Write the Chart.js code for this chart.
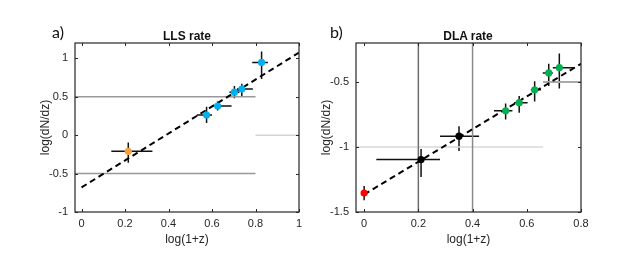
<!DOCTYPE html>
<html>
<head>
<meta charset="utf-8">
<script src="https://cdn.jsdelivr.net/npm/chart.js@4.4.0/dist/chart.umd.min.js"></script>
<style>
  body { margin: 0; background: #fff; }
  #wrap { position: relative; width: 628px; height: 258px; overflow: hidden; }
  .panel { position: absolute; top: 0; width: 314px; height: 258px; }
  .lbl { position: absolute; font-family: Lato, "Open Sans", sans-serif; font-size: 16px; color: #111; }
  .ttl { position: absolute; font-family: "Liberation Sans", Arial, sans-serif; font-weight: bold; font-size: 12px; color: #111; transform: translateX(-50%); white-space: nowrap; }
</style>
</head>
<body>
<div id="wrap">
  <div class="panel" style="left:0"><canvas id="cA" width="314" height="258"></canvas></div>
  <div class="panel" style="left:314px"><canvas id="cB" width="314" height="258"></canvas></div>
  <div class="lbl" style="left:52px;top:22px">a)</div>
  <div class="lbl" style="left:330px;top:22px">b)</div>
  <div class="ttl" style="left:187px;top:29px">LLS rate</div>
  <div class="ttl" style="left:468px;top:29px">DLA rate</div>
</div>
<script>
// panel a: LLS rate
const llsX   = [0.215, 0.575, 0.626, 0.703, 0.737, 0.828];
const llsY   = [-0.21, 0.263, 0.38, 0.56, 0.60, 0.947];
const llsXLo = [0.137, 0.53, 0.61, 0.68, 0.715, 0.785];
const llsXHi = [0.326, 0.60, 0.69, 0.726, 0.788, 0.857];
const llsYLo = [-0.36, 0.16, 0.32, 0.48, 0.50, 0.73];
const llsYHi = [-0.096, 0.37, 0.44, 0.64, 0.67, 1.09];
const llsColors = ['#f7a03c', '#00b0f0', '#00b0f0', '#00b0f0', '#00b0f0', '#00b0f0'];
const llsFitX = [0, 1];
const llsFitY = [-0.68, 1.075];
const llsXTicks = [0, 0.2, 0.4, 0.6, 0.8, 1];
const llsYTicks = [-1, -0.5, 0, 0.5, 1];

// panel b: DLA rate
const dlaX   = [0, 0.21, 0.35, 0.522, 0.572, 0.629, 0.681, 0.72];
const dlaY   = [-1.354, -1.096, -0.917, -0.721, -0.659, -0.56, -0.43, -0.39];
const dlaXLo = [0, 0.045, 0.28, 0.479, 0.553, 0.615, 0.659, 0.696];
const dlaXHi = [0, 0.28, 0.424, 0.547, 0.603, 0.652, 0.696, 0.776];
const dlaYLo = [-1.41, -1.23, -1.03, -0.789, -0.737, -0.65, -0.53, -0.55];
const dlaYHi = [-1.30, -1.016, -0.84, -0.666, -0.607, -0.495, -0.36, -0.28];
const dlaColors = ['#ff0000', '#000000', '#000000', '#00b050', '#00b050', '#00b050', '#00b050', '#00b050'];
const dlaFitX = [0, 0.8];
const dlaFitY = [-1.365, -0.36];
const dlaXTicks = [0, 0.2, 0.4, 0.6, 0.8];
const dlaYTicks = [-1.5, -1, -0.5];

const axisColor = '#262626';
const tickFont = { family: '"Liberation Sans", Arial, sans-serif', size: 11 };
const titleFont = { family: '"Liberation Sans", Arial, sans-serif', size: 12 };

const toPts = (xs, ys) => xs.map((x, i) => ({ x: x, y: ys[i] }));

const segment = (pts, color, width) => ({
  type: 'line', data: pts, borderColor: color, borderWidth: width,
  pointRadius: 0, fill: false, order: 5
});

// error bars drawn through the chart's own scales, under the points
const errorBars = {
  id: 'errorBars',
  beforeDatasetsDraw(chart, args, opts) {
    const { ctx, scales: { x, y } } = chart;
    ctx.save();
    ctx.strokeStyle = '#111';
    ctx.lineWidth = 1.5;
    opts.xs.forEach((xv, i) => {
      const px = x.getPixelForValue(xv), py = y.getPixelForValue(opts.ys[i]);
      ctx.beginPath();
      ctx.moveTo(x.getPixelForValue(opts.xLo[i]), py);
      ctx.lineTo(x.getPixelForValue(opts.xHi[i]), py);
      ctx.moveTo(px, y.getPixelForValue(opts.yLo[i]));
      ctx.lineTo(px, y.getPixelForValue(opts.yHi[i]));
      ctx.stroke();
    });
    ctx.restore();
  }
};

// MATLAB style box with inward ticks
const boxAxes = {
  id: 'boxAxes',
  afterDraw(chart) {
    const { ctx, chartArea: a, scales: { x, y } } = chart;
    ctx.save();
    ctx.strokeStyle = axisColor;
    ctx.lineWidth = 1.2;
    ctx.strokeRect(a.left, a.top, a.right - a.left, a.bottom - a.top);
    ctx.lineWidth = 1;
    ctx.beginPath();
    x.ticks.forEach(t => {
      const p = Math.round(x.getPixelForValue(t.value)) + 0.5;
      ctx.moveTo(p, a.bottom); ctx.lineTo(p, a.bottom - 3);
      ctx.moveTo(p, a.top); ctx.lineTo(p, a.top + 3);
    });
    y.ticks.forEach(t => {
      const p = Math.round(y.getPixelForValue(t.value)) + 0.5;
      ctx.moveTo(a.left, p); ctx.lineTo(a.left + 3, p);
      ctx.moveTo(a.right, p); ctx.lineTo(a.right - 3, p);
    });
    ctx.stroke();
    ctx.restore();
  }
};

function makeChart(id, cfg) {
  return new Chart(document.getElementById(id), {
    type: 'scatter',
    data: {
      datasets: [
        {
          data: toPts(cfg.xs, cfg.ys), backgroundColor: cfg.colors, borderWidth: 0,
          pointRadius: 3.6, order: 0
        },
        {
          type: 'line', data: toPts(cfg.fitX, cfg.fitY), borderColor: '#000',
          borderWidth: 2, borderDash: [6, 4], pointRadius: 0, fill: false, order: 1
        }
      ].concat(cfg.extra)
    },
    options: {
      responsive: false,
      animation: false,
      layout: { padding: { left: 0, right: cfg.padRight, top: 43, bottom: 0 } },
      plugins: {
        legend: { display: false },
        tooltip: { enabled: false },
        errorBars: { xs: cfg.xs, ys: cfg.ys, xLo: cfg.xLo, xHi: cfg.xHi, yLo: cfg.yLo, yHi: cfg.yHi }
      },
      scales: {
        x: {
          type: 'linear', min: cfg.xMin, max: cfg.xMax,
          afterBuildTicks: s => { s.ticks = cfg.xTicks.map(v => ({ value: v })); },
          afterFit: s => { s.height = 46; },
          grid: { display: false, drawTicks: false },
          border: { display: false },
          ticks: { color: axisColor, font: tickFont, padding: 5, maxRotation: 0, callback: v => String(v) },
          title: { display: true, text: 'log(1+z)', color: axisColor, font: titleFont, padding: { bottom: 11 } }
        },
        y: {
          type: 'linear', min: cfg.yMin, max: cfg.yMax,
          afterBuildTicks: s => { s.ticks = cfg.yTicks.map(v => ({ value: v })); },
          afterFit: s => { s.width = cfg.yWidth; },
          grid: { display: false, drawTicks: false },
          border: { display: false },
          ticks: { color: axisColor, font: tickFont, padding: 7, callback: v => String(v) },
          title: { display: true, text: 'log(dN/dz)', color: axisColor, font: titleFont, padding: { top: cfg.yTitlePad } }
        }
      }
    },
    plugins: [errorBars, boxAxes]
  });
}

makeChart('cA', {
  xs: llsX, ys: llsY, xLo: llsXLo, xHi: llsXHi, yLo: llsYLo, yHi: llsYHi, colors: llsColors,
  fitX: llsFitX, fitY: llsFitY, xTicks: llsXTicks, yTicks: llsYTicks,
  xMin: -0.03, xMax: 1, yMin: -1, yMax: 1.2, yWidth: 75, padRight: 15, yTitlePad: 38,
  extra: [
    segment([{ x: -0.03, y: 0.5 }, { x: 0.8, y: 0.5 }], '#999', 1.5),
    segment([{ x: -0.03, y: -0.5 }, { x: 0.8, y: -0.5 }], '#999', 1.5),
    segment([{ x: 0.8, y: 0 }, { x: 1, y: 0 }], '#d4d4d4', 1.5)
  ]
});

makeChart('cB', {
  xs: dlaX, ys: dlaY, xLo: dlaXLo, xHi: dlaXHi, yLo: dlaYLo, yHi: dlaYHi, colors: dlaColors,
  fitX: dlaFitX, fitY: dlaFitY, xTicks: dlaXTicks, yTicks: dlaYTicks,
  xMin: -0.03, xMax: 0.8, yMin: -1.5, yMax: -0.2, yWidth: 42, padRight: 47, yTitlePad: 5,
  extra: [
    segment([{ x: 0.2, y: -1.5 }, { x: 0.2, y: -0.2 }], '#6e6e6e', 1.5),
    segment([{ x: 0.4, y: -1.5 }, { x: 0.4, y: -0.2 }], '#8a8a8a', 1.5),
    segment([{ x: -0.03, y: -1 }, { x: 0.66, y: -1 }], '#d8d8d8', 1.5),
    segment([{ x: 0.66, y: -0.5 }, { x: 0.8, y: -0.5 }], '#a8a8a8', 2)
  ]
});
</script>
</body>
</html>
